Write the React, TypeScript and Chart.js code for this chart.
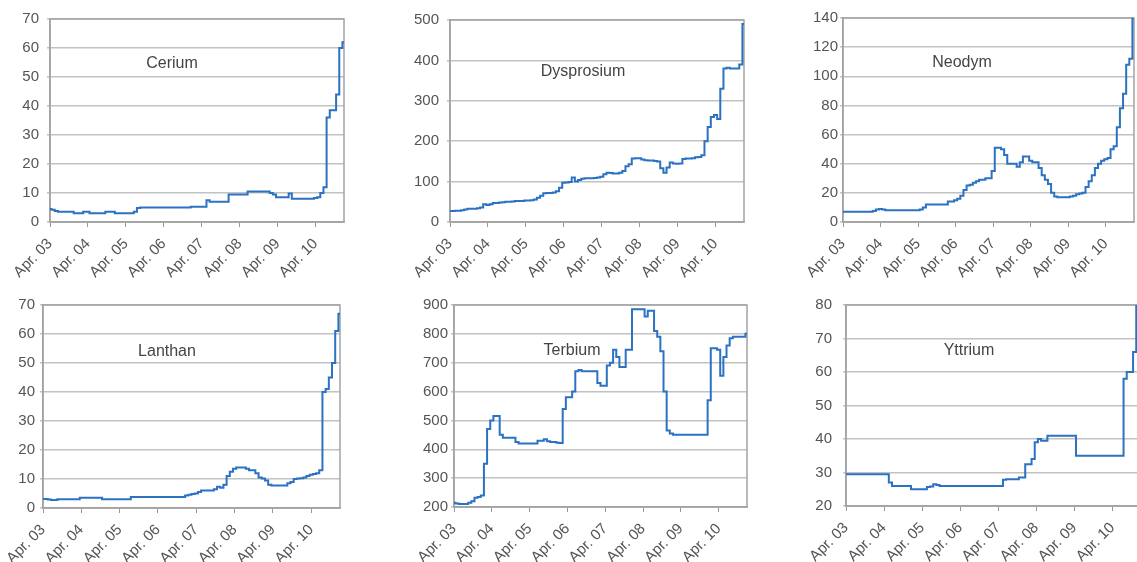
import React, { useEffect, useRef } from 'react';
import { Chart, registerables } from 'chart.js';

Chart.register(...registerables);

// x axis: monthly index, 0 = Apr 2003 ... 93 = Jan 2011
const tickLabels = ['Apr. 03', 'Apr. 04', 'Apr. 05', 'Apr. 06', 'Apr. 07', 'Apr. 08', 'Apr. 09', 'Apr. 10'];
const titles = ['Cerium', 'Dysprosium', 'Neodym', 'Lanthan', 'Terbium', 'Yttrium'];

const cerium = [4.5, 4.2, 3.8, 3.5, 3.5, 3.5, 3.5, 3.5, 3, 3, 3, 3.5, 3.5, 3, 3, 3, 3, 3, 3.5, 3.5, 3.5, 3, 3, 3, 3, 3, 3, 3.5, 4.8,
  5, 5, 5, 5, 5, 5, 5, 5, 5, 5, 5, 5, 5, 5, 5, 5, 5.3, 5.3, 5.3, 5.3, 5.3, 7.5, 7, 7, 7, 7, 7, 7,
  9.5, 9.5, 9.5, 9.5, 9.5, 9.5, 10.5, 10.5, 10.5, 10.5, 10.5, 10.5, 10.5, 10, 9.5, 8.5, 8.5, 8.5, 8.5, 9.8,
  8, 8, 8, 8, 8, 8, 8, 8.3, 8.5, 10, 12, 36, 38.5, 38.5, 44, 60, 62];

const dysprosium = [27, 27, 28, 28, 29, 31, 33, 33, 33, 34, 36, 44, 42, 44, 47, 47, 48, 49, 50, 50,
  51, 52, 52, 52, 53, 53, 54, 56, 60, 65, 71, 72, 72, 73, 76, 85, 97, 98, 99, 110,
  100, 104, 107, 108, 108, 108, 109, 110, 112, 118, 122, 121, 120, 120, 122, 126, 138, 143, 157, 158,
  158, 155, 153, 152, 152, 151, 150, 133, 122, 135, 147, 145, 144, 145, 156, 157, 157, 158, 160, 161,
  165, 200, 235, 260, 265, 255, 330, 380, 382, 380, 380, 380, 390, 490];

const neodym = [7, 7, 7, 7, 7, 7, 7, 7, 7, 7, 7.5, 8.5, 9, 8.5, 8, 8, 8, 8, 8, 8, 8, 8, 8, 8, 8, 8.5, 10,
  12, 12, 12, 12, 12, 12, 12, 14, 14, 15, 16, 18, 22, 25, 25.5, 27, 28,
  29, 29, 30, 30, 35, 51, 51, 50, 46, 40, 40, 40, 38, 41, 45, 45, 42, 41, 41, 37,
  32, 29, 26, 20, 17.5, 17, 17, 17, 17, 17.5, 18, 19, 19.5, 20, 24, 28, 32, 37, 40, 42,
  43, 44, 50, 52, 65, 78, 88, 108, 112, 140];

const lanthan = [3.1, 3.1, 2.9, 2.8, 2.8, 3, 3, 3, 3, 3, 3, 3, 3.5, 3.5, 3.5, 3.5, 3.5, 3.5, 3.5,
  3, 3, 3, 3, 3, 3, 3, 3, 3, 3.8, 3.8, 3.8, 3.8, 3.8, 3.8, 3.8, 3.8, 3.8, 3.8, 3.8, 3.8, 3.8, 3.8, 3.8, 3.8, 3.8,
  4.3, 4.6, 4.8, 5, 5.5, 6, 6, 6, 6, 6.5, 7.3, 7, 8, 11, 12.5, 13.5, 14, 14, 14, 13.5,
  13, 13, 12, 10.5, 10.2, 9.5, 8, 7.8, 7.8, 7.8, 7.8, 7.8,
  8.5, 9, 10, 10.2, 10.3, 10.5, 11, 11.5, 11.7, 12, 13, 40, 41, 45, 50, 61, 67];

const terbium = [215, 212, 210, 210, 210, 215, 220, 232, 235, 240, 350, 470, 500, 515, 515, 450, 440, 440, 440, 440,
  425, 420, 420, 420, 420, 420, 420, 430, 430, 435, 428, 425, 425, 423, 422, 540, 580, 580, 600, 670,
  675, 670, 670, 670, 670, 670, 630, 620, 620, 690, 700, 745, 720, 685, 685, 745, 745, 885, 885, 885,
  885, 860, 880, 880, 810, 790, 740, 600, 465, 455, 450, 450, 450, 450, 450, 450, 450, 450, 450, 450,
  450, 570, 750, 750, 745, 655, 720, 760, 785, 790, 790, 790, 790, 800];

const yttrium = [29.5, 29.5, 29.5, 29.5, 29.5, 29.5, 29.5, 29.5, 29.5, 29.5, 29.5, 29.5, 29.5, 29.5, 27,
  26, 26, 26, 26, 26, 26, 25, 25, 25, 25, 25, 25.7, 25.8, 26.5, 26.3,
  26, 26, 26, 26, 26, 26, 26, 26, 26, 26, 26, 26, 26, 26, 26, 26, 26, 26, 26, 26,
  27.8, 28, 28, 28, 28, 28.5, 28.5, 32.5, 32.5, 34, 39, 40, 39.5, 39.5, 41,
  41, 41, 41, 41, 41, 41, 41, 41, 35, 35, 35, 35, 35, 35, 35, 35, 35, 35, 35, 35, 35, 35, 35,
  58, 60, 60, 66, 80, 80];

const seriesList = [cerium, dysprosium, neodym, lanthan, terbium, yttrium];
const yMin = [0, 0, 0, 0, 200, 20];
const yMax = [70, 500, 140, 70, 900, 80];
const yStep = [10, 100, 20, 10, 100, 10];
const xMax = 93;

// layout of each panel's plot area in page pixels
const layouts = [
  { L: 50, T: 19, R: 344, B: 222, tx: 122, ty: 45, gap: 8 },
  { L: 450, T: 20, R: 744, B: 222, tx: 133, ty: 52, gap: 8 },
  { L: 843, T: 18, R: 1134, B: 222, tx: 119, ty: 45, gap: 2 },
  { L: 43, T: 305, R: 340, B: 508, tx: 124, ty: 47, gap: 5 },
  { L: 454, T: 305, R: 747, B: 507, tx: 118, ty: 46, gap: 3 },
  { L: 846, T: 305, R: 1141, B: 506, tx: 123, ty: 46, gap: 11 },
];

const YW = 60;
const XH = 70;
const PT = 12;
const PR = 6;
const FONT = "'Liberation Sans', Arial, sans-serif";

function Panel({ idx }: { idx: number }) {
  const ref = useRef<HTMLCanvasElement | null>(null);
  const lay = layouts[idx];
  const w = lay.R - lay.L + YW + PR;
  const h = lay.B - lay.T + PT + XH;

  useEffect(() => {
    if (!ref.current) return;
    const values = seriesList[idx];
    const framePlugin = {
      id: 'frame' + idx,
      beforeDatasetsDraw(chart: any) {
        const { ctx, chartArea } = chart;
        const { left, top, right, bottom } = chartArea;
        ctx.save();
        ctx.strokeStyle = '#a3a3a3';
        ctx.lineWidth = 1.5;
        ctx.strokeRect(left, top, right - left, bottom - top);
        ctx.fillStyle = '#444';
        ctx.font = '16px ' + FONT;
        ctx.textAlign = 'center';
        ctx.textBaseline = 'middle';
        ctx.fillText(titles[idx], left + lay.tx, top + lay.ty);
        ctx.restore();
      },
    };
    const chart = new Chart(ref.current, {
      type: 'line',
      data: {
        datasets: [
          {
            label: titles[idx],
            data: values.map((v, i) => ({ x: i, y: v })),
            borderColor: '#2b72c2',
            borderWidth: 2,
            pointRadius: 0,
            stepped: 'middle',
            fill: false,
          },
        ],
      },
      options: {
        responsive: false,
        animation: false,
        layout: { padding: { top: PT, right: PR, left: 0, bottom: 0 } },
        plugins: { legend: { display: false }, tooltip: { enabled: false }, title: { display: false } },
        scales: {
          x: {
            type: 'linear',
            min: 0,
            max: xMax,
            afterFit: (s: any) => {
              s.height = XH;
              s.paddingLeft = 0;
              s.paddingRight = 0;
            },
            grid: { drawOnChartArea: false, drawTicks: true, tickLength: 5, color: '#999', lineWidth: 1 },
            border: { display: true, color: '#a3a3a3', width: 1.5 },
            ticks: {
              stepSize: 12,
              includeBounds: false,
              autoSkip: false,
              minRotation: 45,
              maxRotation: 45,
              padding: 8,
              color: '#555',
              font: { family: FONT, size: 15 },
              callback: (v: any) => tickLabels[Math.round(Number(v) / 12)] ?? '',
            },
          },
          y: {
            min: yMin[idx],
            max: yMax[idx],
            afterFit: (s: any) => {
              s.width = YW;
              s.paddingTop = 0;
              s.paddingBottom = 0;
            },
            grid: { color: '#c2c2c2', lineWidth: 1.5, tickLength: 3, drawTicks: true },
            border: { display: true, color: '#a3a3a3', width: 1.5 },
            ticks: { stepSize: yStep[idx], padding: lay.gap, color: '#555', font: { family: FONT, size: 15 } },
          },
        },
      },
      plugins: [framePlugin],
    } as any);
    return () => chart.destroy();
  }, [idx]);

  return (
    <canvas
      ref={ref}
      width={w}
      height={h}
      style={{ position: 'absolute', left: lay.L - YW, top: lay.T - PT, width: w, height: h }}
    />
  );
}

export default function App() {
  return (
    <div
      style={{
        position: 'fixed',
        left: 0,
        top: 0,
        width: 1137,
        height: 562,
        overflow: 'hidden',
        background: '#fff',
      }}
    >
      {titles.map((t, i) => (
        <Panel key={t} idx={i} />
      ))}
    </div>
  );
}
